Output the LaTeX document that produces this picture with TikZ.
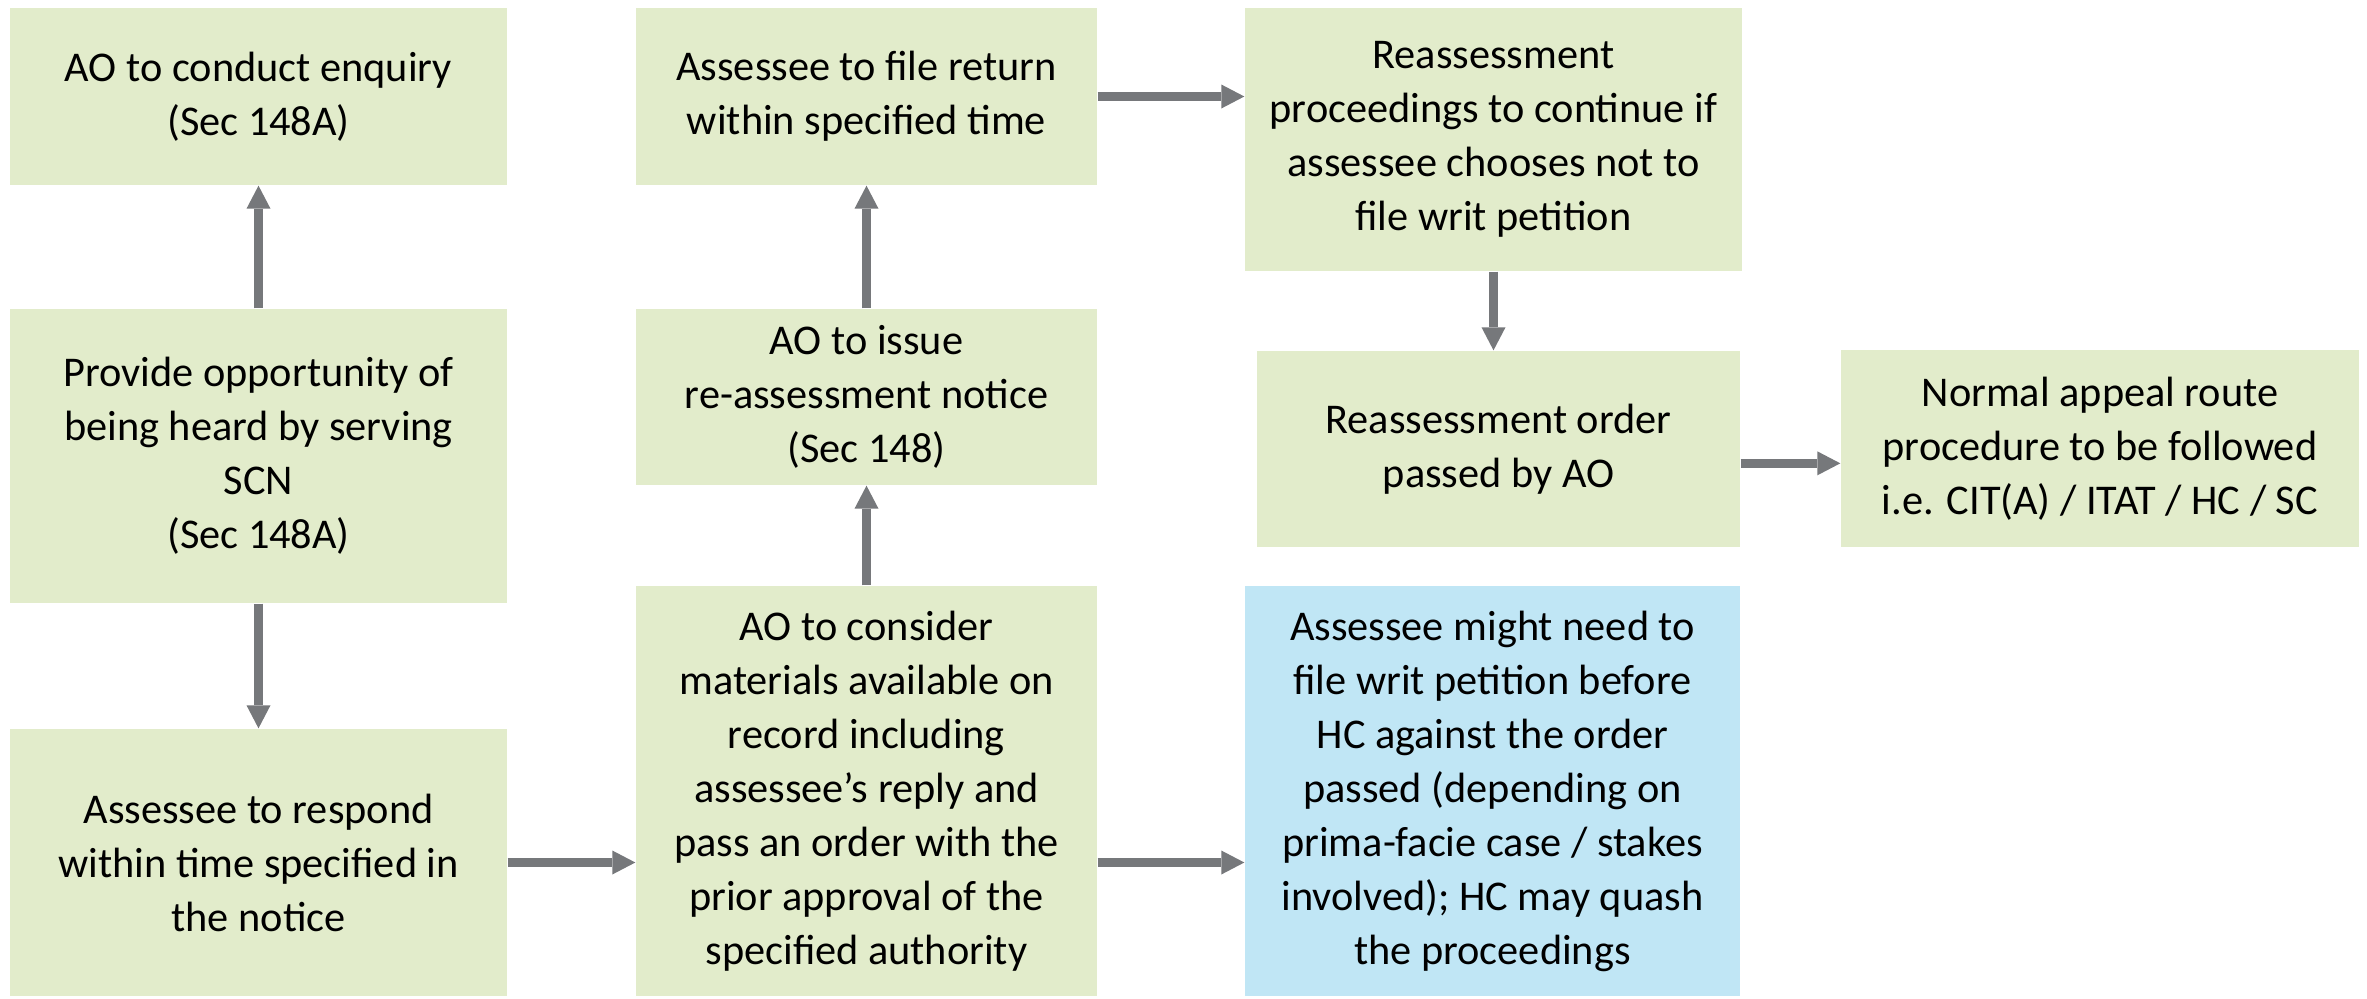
\documentclass[tikz,border=0pt]{standalone}
\usepackage{fontspec}
\setmainfont{Carlito}
\usetikzlibrary{arrows.meta}
\definecolor{boxgreen}{RGB}{226,236,203}
\definecolor{boxblue}{RGB}{192,230,245}
\definecolor{arrowgray}{RGB}{118,120,123}
\begin{document}
\begin{tikzpicture}[x=1pt,y=1pt,
  stepbox/.style={fill=boxgreen, draw=none, inner sep=0pt, align=center,
    font=\fontsize{12.7}{16.2}\selectfont},
  bluebox/.style={stepbox, fill=boxblue},
  flow/.style={draw=arrowgray, line width=2.55pt,
    -{Triangle[width=7.2pt,length=6.9pt,line width=0pt]}}]
\useasboundingbox (0,0) rectangle (710.1,-299.7);
% column 1
\node[stepbox, minimum width=149.1pt, minimum height=53.1pt] (A) at (77.55,-28.95)
  {AO to conduct enquiry\\(Sec 148A)};
\node[stepbox, minimum width=149.1pt, minimum height=88.2pt] (B) at (77.55,-136.8)
  {Provide opportunity of\\being heard by serving\\SCN\\(Sec 148A)};
\node[stepbox, minimum width=149.1pt, minimum height=80.1pt] (C) at (77.55,-258.75)
  {Assessee to respond\\within time specified in\\the notice};
% column 2
\node[stepbox, minimum width=138.3pt, minimum height=53.1pt] (D) at (259.95,-28.95)
  {Assessee to file return\\within specified time};
\node[stepbox, minimum width=138.3pt, minimum height=52.8pt] (E) at (259.95,-119.1)
  {AO to issue\\re-assessment notice\\(Sec 148)};
\node[stepbox, minimum width=138.3pt, minimum height=123pt] (F) at (259.95,-237.3)
  {AO to consider\\materials available on\\record including\\assessee’s reply and\\pass an order with the\\prior approval of the\\specified authority};
% column 3
\node[stepbox, minimum width=149.1pt, minimum height=78.9pt] (G) at (448.05,-41.85)
  {Reassessment\\proceedings to continue if\\assessee chooses not to\\file writ petition};
\node[stepbox, minimum width=144.9pt, minimum height=58.8pt] (H) at (449.55,-134.7)
  {Reassessment order\\passed by AO};
\node[bluebox, minimum width=148.5pt, minimum height=123pt] (I) at (447.75,-237.3)
  {Assessee might need to\\file writ petition before\\HC against the order\\passed (depending on\\prima-facie case / stakes\\involved); HC may quash\\the proceedings};
% column 4
\node[stepbox, minimum width=155.4pt, minimum height=59.1pt] (J) at (630,-134.55)
  {Normal appeal route\\procedure to be followed\\i.e. CIT(A) / ITAT / HC / SC};
% connectors
\coordinate (hj) at ([yshift=-4.3pt]H.east);
\draw[flow] (B.north) -- (A.south);
\draw[flow] (B.south) -- (C.north);
\draw[flow] (C.east) -- (C.east -| F.west);
\draw[flow] (F.north) -- (E.south);
\draw[flow] (E.north) -- (D.south);
\draw[flow] (D.east) -- (D.east -| G.west);
\draw[flow] (F.east |- C.east) -- (I.west |- C.east);
\draw[flow] (G.south) -- (G.south |- H.north);
\draw[flow] (hj) -- (hj -| J.west);
\end{tikzpicture}
\end{document}
